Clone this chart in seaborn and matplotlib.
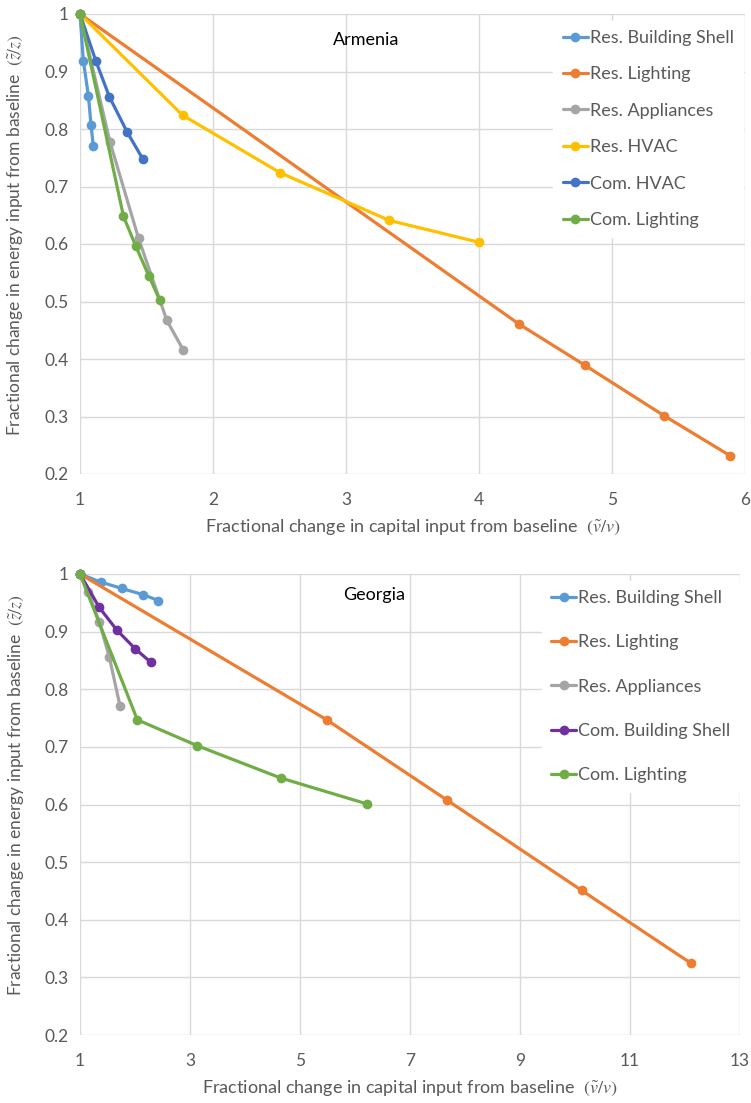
import matplotlib.pyplot as plt
from matplotlib.lines import Line2D
from matplotlib.ticker import FuncFormatter
import seaborn as sns
import pandas as pd

# Armenia
arm_series = ['Res. Building Shell', 'Res. Lighting', 'Res. Appliances',
              'Res. HVAC', 'Com. HVAC', 'Com. Lighting']
arm_rbs_x = [1, 1.025, 1.063, 1.083, 1.10]
arm_rbs_y = [1, 0.919, 0.858, 0.807, 0.770]
arm_rl_x = [1, 4.299, 4.797, 5.394, 5.887]
arm_rl_y = [1, 0.461, 0.389, 0.301, 0.232]
arm_ra_x = [1, 1.226, 1.44, 1.653, 1.778]
arm_ra_y = [1, 0.777, 0.610, 0.467, 0.415]
arm_rh_x = [1, 1.771, 2.504, 3.326, 4.0]
arm_rh_y = [1, 0.824, 0.724, 0.641, 0.603]
arm_ch_x = [1, 1.118, 1.221, 1.356, 1.472]
arm_ch_y = [1, 0.919, 0.856, 0.794, 0.748]
arm_cl_x = [1, 1.327, 1.42, 1.517, 1.598]
arm_cl_y = [1, 0.648, 0.596, 0.545, 0.503]

# Georgia
geo_series = ['Res. Building Shell', 'Res. Lighting', 'Res. Appliances',
              'Com. Building Shell', 'Com. Lighting']
geo_rbs_x = [1, 1.376, 1.758, 2.152, 2.424]
geo_rbs_y = [1, 0.986, 0.975, 0.964, 0.954]
geo_rl_x = [1, 5.485, 7.667, 10.12, 12.10]
geo_rl_y = [1, 0.747, 0.608, 0.451, 0.325]
geo_ra_x = [1, 1.15, 1.35, 1.533, 1.727]
geo_ra_y = [1, 0.969, 0.917, 0.856, 0.771]
geo_cbs_x = [1, 1.35, 1.667, 2.006, 2.285]
geo_cbs_y = [1, 0.942, 0.903, 0.870, 0.847]
geo_cl_x = [1, 2.042, 3.133, 4.649, 6.218]
geo_cl_y = [1, 0.747, 0.702, 0.646, 0.601]

cores = {
    'Res. Building Shell': '#5B9BD5',
    'Res. Lighting': '#ED7D31',
    'Res. Appliances': '#A5A5A5',
    'Res. HVAC': '#FFC000',
    'Com. HVAC': '#4472C4',
    'Com. Building Shell': '#7030A0',
    'Com. Lighting': '#70AD47',
}

cinza = '#595959'


def monta_df(series, xs, ys):
    linhas = []
    for nome, x, y in zip(series, xs, ys):
        for ordem, (a, b) in enumerate(zip(x, y)):
            linhas.append({'serie': nome, 'x': a, 'y': b, 'ordem': ordem})
    return pd.DataFrame(linhas)


df_arm = monta_df(arm_series,
                  [arm_rbs_x, arm_rl_x, arm_ra_x, arm_rh_x, arm_ch_x, arm_cl_x],
                  [arm_rbs_y, arm_rl_y, arm_ra_y, arm_rh_y, arm_ch_y, arm_cl_y])
df_geo = monta_df(geo_series,
                  [geo_rbs_x, geo_rl_x, geo_ra_x, geo_cbs_x, geo_cl_x],
                  [geo_rbs_y, geo_rl_y, geo_ra_y, geo_cbs_y, geo_cl_y])

sns.set_theme(style='whitegrid')
plt.rcParams['font.family'] = ['Lato', 'DejaVu Sans']
plt.rcParams['mathtext.fontset'] = 'stix'

fig = plt.figure(figsize=(7.51, 11.03), dpi=100)
ax1 = fig.add_axes([80 / 751, 1 - 474 / 1103, 665 / 751, 460 / 1103])
ax2 = fig.add_axes([80 / 751, 1 - 1035 / 1103, 660 / 751, 461 / 1103])


def desenha(ax, df, series, xticks, titulo, tit_pos, leg_pos, leg_spacing):
    sns.lineplot(data=df, x='x', y='y', hue='serie', hue_order=series,
                 palette=[cores[s] for s in series], sort=False, estimator=None,
                 units='serie', marker='o', markersize=7, markeredgewidth=0,
                 linewidth=2.3, clip_on=False, legend=False, ax=ax)
    ax.set_xlim(xticks[0], xticks[-1])
    ax.set_ylim(0.2, 1)
    ax.set_xticks(xticks)
    ax.set_yticks([0.2, 0.3, 0.4, 0.5, 0.6, 0.7, 0.8, 0.9, 1.0])
    fmt = FuncFormatter(lambda v, p: f'{v:g}')
    ax.xaxis.set_major_formatter(fmt)
    ax.yaxis.set_major_formatter(fmt)
    ax.grid(True, color='#D9D9D9', linewidth=1)
    for s in ax.spines.values():
        s.set_visible(False)
    ax.tick_params(axis='x', length=0, pad=13, labelsize=12.5, labelcolor=cinza)
    ax.tick_params(axis='y', length=0, pad=8, labelsize=12.5, labelcolor=cinza)
    ax.set_xlabel(r'Fractional change in capital input from baseline  $(\tilde{v}/v)$',
                  fontsize=13, color=cinza)
    ax.set_ylabel(r'Fractional change in energy input from baseline  $(\tilde{z}/z)$',
                  fontsize=12.5, color=cinza)
    ax.xaxis.set_label_coords(0.5, -0.095)
    ax.yaxis.set_label_coords(-0.082, 0.52)
    ax.text(tit_pos[0], tit_pos[1], titulo, transform=ax.transAxes,
            fontsize=13, color='black', ha='center', va='center')

    handles = [Line2D([], [], color=cores[s], marker='o', markersize=7,
                      markeredgewidth=0, linewidth=2.3) for s in series]
    leg = ax.legend(handles, series, loc='upper left', bbox_to_anchor=leg_pos,
                    borderaxespad=0, frameon=True, fontsize=13,
                    handlelength=1.4, handletextpad=0.1,
                    labelspacing=leg_spacing, borderpad=0.5)
    leg.get_frame().set_edgecolor('white')
    leg.get_frame().set_facecolor('white')
    leg.get_frame().set_alpha(1)
    for t in leg.get_texts():
        t.set_color(cinza)


desenha(ax1, df_arm, arm_series, [1, 2, 3, 4, 5, 6], 'Armenia',
        (0.43, 0.944), (0.712, 0.985), 1.13)
desenha(ax2, df_geo, geo_series, [1, 3, 5, 7, 9, 11, 13], 'Georgia',
        (0.445, 0.954), (0.70, 0.985), 1.57)

plt.savefig('out.png', dpi=100)
